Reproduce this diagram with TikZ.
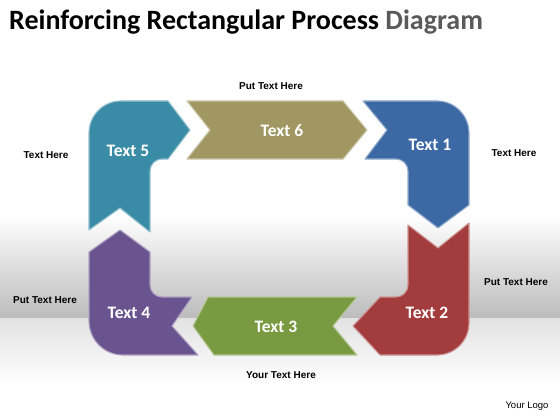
\documentclass[tikz,border=0pt]{standalone}
\usepackage{fontspec}
\setmainfont{Carlito}
\newfontfamily\lblfont{Liberation Sans}
\begin{document}
\begin{tikzpicture}[x=1pt,y=-1pt,
  piece/.style={fill=#1, draw=#1!55!white, line width=1.1pt, line join=round},
  ptext/.style={text=white, font=\fontsize{17.5}{19}\selectfont\bfseries},
  side/.style={font=\lblfont\fontsize{10}{12}\selectfont\bfseries, text=black},
]
\definecolor{cteal}{RGB}{58,140,166}
\definecolor{colive}{RGB}{160,151,98}
\definecolor{cblue}{RGB}{60,104,164}
\definecolor{cred}{RGB}{163,60,60}
\definecolor{cgreen}{RGB}{122,154,66}
\definecolor{cpurple}{RGB}{106,84,144}
\definecolor{bgdark}{RGB}{188,188,188}
\definecolor{bglight}{RGB}{226,226,226}
\useasboundingbox (0,0) rectangle (560,420);
% background
\fill[white] (0,0) rectangle (560,420);
\shade[top color=white, bottom color=bgdark] (0,215) rectangle (560,318);
\shade[top color=bglight, bottom color=white] (0,318) rectangle (560,385);
% title
\node[anchor=base west, inner sep=0pt, font=\fontsize{28}{30}\selectfont\bfseries] (title) at (9,30)
  {Reinforcing Rectangular Process \textcolor[RGB]{90,90,90}{Diagram}};
% Teal piece (Text 5)
\path[piece=cteal] (89,230) -- (89,133) .. controls (89,115.3) and (103.3,101) .. (121,101)
  -- (168,101) -- (190,130) -- (168,159) -- (162,159)
  .. controls (155.4,159) and (150,164.4) .. (150,171) -- (150,232) -- (120,208) -- cycle;
% Olive piece (Text 6)
\path[piece=colive] (187,101) -- (343,101) -- (367,130) -- (343,159) -- (187,159) -- (210,130) -- cycle;
% Blue piece (Text 1)
\path[piece=cblue] (363,101) -- (437,101) .. controls (454.7,101) and (469,115.3) .. (469,133)
  -- (469,205) -- (438,228) -- (408,205) -- (408,171)
  .. controls (408,164.4) and (402.6,159) .. (396,159) -- (365,159) -- (387,130) -- cycle;
% Red piece (Text 2)
\path[piece=cred] (408,225) -- (438,248) -- (469,223) -- (469,323)
  .. controls (469,340.7) and (454.7,355) .. (437,355) -- (380,355) -- (353,326) -- (380,297) -- (396,297)
  .. controls (402.6,297) and (408,291.6) .. (408,285) -- cycle;
% Green piece (Text 3)
\path[piece=cgreen] (357,297) -- (333,326) -- (357,355) -- (214,355) -- (193,326) -- (208,297) -- cycle;
% Purple piece (Text 4)
\path[piece=cpurple] (120,230) -- (150,252) -- (150,285)
  .. controls (150,291.6) and (155.4,297) .. (162,297) -- (192,297) -- (172,326) -- (198,355) -- (123,355)
  .. controls (104.2,355) and (89,339.8) .. (89,321) -- (89,252) -- cycle;
% piece labels
\node[ptext] (t5) at (128,151) {Text 5};
\node[ptext] (t6) at (282,131) {Text 6};
\node[ptext] (t1) at (430,145) {Text 1};
\node[ptext] (t2) at (427,313) {Text 2};
\node[ptext] (t3) at (276,327) {Text 3};
\node[ptext] (t4) at (129,313) {Text 4};
% side labels
\node[side] (s6) at (271,86) {Put Text Here};
\node[side] (s5) at (46,155) {Text Here};
\node[side] (s1) at (514,153) {Text Here};
\node[side] (s2) at (516,282) {Put Text Here};
\node[side] (s4) at (45,300) {Put Text Here};
\node[side] (s3) at (281,375) {Your Text Here};
\node[font=\lblfont\fontsize{9.5}{11}\selectfont] (logo) at (527,406) {Your Logo};
\end{tikzpicture}
\end{document}
